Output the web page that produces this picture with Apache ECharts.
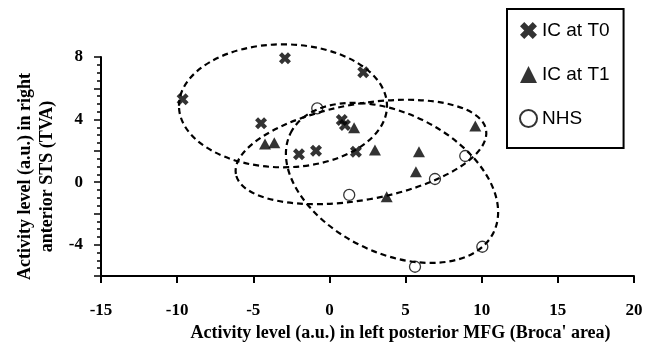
<!DOCTYPE html>
<html>
<head>
<meta charset="utf-8">
<script src="https://cdn.jsdelivr.net/npm/echarts@6/dist/echarts.min.js"></script>
<style>
  html, body { margin: 0; padding: 0; background: #fff; }
  #chart { width: 650px; height: 348px; }
</style>
</head>
<body>
<div id="chart"></div>
<script>
// points: [x, y]
var icT0 = [[-9.64, 5.30], [-2.92, 7.92], [-4.49, 3.76], [-2.0, 1.78], [-0.88, 2.01],
            [2.22, 7.02], [0.81, 3.97], [1.02, 3.65], [1.74, 1.95]];
var icT1 = [[-4.23, 2.44], [-3.62, 2.52], [1.62, 3.48], [2.99, 2.06], [5.88, 1.95],
            [5.68, 0.67], [9.58, 3.59], [3.76, -0.93]];
var nhs = [[-0.80, 4.72], [1.30, -0.82], [6.93, 0.20], [8.92, 1.67], [10.04, -4.13], [5.62, -5.41]];

// dashed ellipses: [centerX, centerY, radiusX, radiusY, rotation deg]
var ellipses = [[-3.05, 4.88, 6.83, 3.93, 0],
                [2.07, 1.93, 8.34, 3.07, 10],
                [4.11, -0.05, 7.42, 4.47, -26]];

var yLabelled = [8, 4, 0, -4];

var crossPath = 'path://M0,3 L3,0 L6,3 L9,0 L12,3 L9,6 L12,9 L9,12 L6,9 L3,12 L0,9 L3,6 Z';
var serif = 'Liberation Serif';

var myChart = echarts.init(document.getElementById('chart'));
myChart.setOption({
    animation: false,
    grid: { left: 101, right: 16, top: 57, bottom: 72, outerBoundsMode: 'none' },
    legend: {
        orient: 'vertical',
        left: 507,
        top: 9,
        padding: [12, 14, 20, 12],
        itemGap: 25,
        itemWidth: 17,
        itemHeight: 17,
        borderColor: '#000',
        borderWidth: 2,
        textStyle: { fontFamily: 'Liberation Sans', fontSize: 19, color: '#000' },
        data: [
            { name: 'IC at T0', icon: crossPath },
            { name: 'IC at T1', icon: 'triangle' },
            { name: 'NHS', icon: 'circle' }
        ]
    },
    xAxis: {
        type: 'value',
        min: -15,
        max: 20,
        interval: 5,
        name: "Activity level (a.u.) in left posterior MFG (Broca' area)",
        nameLocation: 'middle',
        nameGap: 41,
        nameTextStyle: { fontFamily: serif, fontWeight: 'bold', fontSize: 18, color: '#000', padding: [0, 0, 0, 66] },
        axisLine: { onZero: false, lineStyle: { color: '#000', width: 2 } },
        axisTick: { length: 7, lineStyle: { color: '#000', width: 2 } },
        axisLabel: { margin: 26, fontFamily: serif, fontWeight: 'bold', fontSize: 17, color: '#000' },
        splitLine: { show: false }
    },
    yAxis: {
        type: 'value',
        min: -6,
        max: 8,
        interval: 2,
        name: 'Activity level (a.u.) in right\nanterior STS (TVA)',
        nameLocation: 'middle',
        nameRotate: 90,
        nameGap: 43,
        nameTextStyle: { fontFamily: serif, fontWeight: 'bold', fontSize: 18, lineHeight: 22, color: '#000', padding: [0, 0, 0, -20] },
        axisLine: { onZero: false, lineStyle: { color: '#000', width: 2 } },
        axisTick: { length: 7, lineStyle: { color: '#000', width: 1.5 } },
        minorTick: { show: true, splitNumber: 4, length: 4, lineStyle: { color: '#000', width: 1.5 } },
        axisLabel: {
            margin: 18, fontFamily: serif, fontWeight: 'bold', fontSize: 17, color: '#000',
            formatter: function (v) { return yLabelled.indexOf(v) >= 0 ? String(v) : ''; }
        },
        splitLine: { show: false }
    },
    series: [
        {
            name: 'ellipses',
            type: 'custom',
            silent: true,
            z: 1,
            data: ellipses,
            renderItem: function (params, api) {
                var c = api.coord([api.value(0), api.value(1)]);
                var s = api.size([api.value(2), api.value(3)]);
                return {
                    type: 'ellipse',
                    x: c[0],
                    y: c[1],
                    rotation: api.value(4) * Math.PI / 180,
                    shape: { cx: 0, cy: 0, rx: s[0], ry: s[1] },
                    style: { fill: 'none', stroke: '#000', lineWidth: 2.2, lineDash: [6, 4] }
                };
            }
        },
        {
            name: 'IC at T0',
            type: 'scatter',
            z: 3,
            symbol: crossPath,
            symbolSize: 12,
            itemStyle: { color: '#000' },
            data: icT0
        },
        {
            name: 'IC at T1',
            type: 'scatter',
            z: 3,
            symbol: 'triangle',
            symbolSize: [12, 11],
            itemStyle: { color: '#000' },
            data: icT1
        },
        {
            name: 'NHS',
            type: 'scatter',
            z: 3,
            symbol: 'circle',
            symbolSize: 11,
            itemStyle: { color: 'rgba(255,255,255,0)', borderColor: '#000', borderWidth: 1.3 },
            data: nhs
        }
    ]
});
</script>
</body>
</html>
